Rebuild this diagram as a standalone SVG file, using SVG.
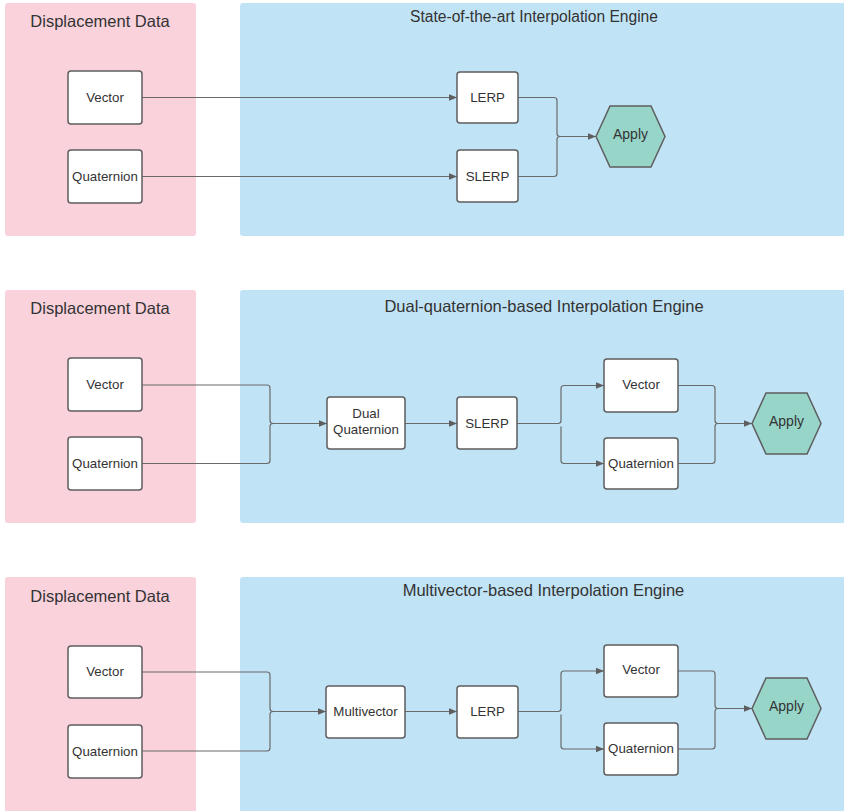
<svg xmlns="http://www.w3.org/2000/svg" width="844" height="811" viewBox="0 0 844 811">
<defs>
<style>
.pink{fill:#f9d2dc;}
.blue{fill:#c1e3f6;}
.box{fill:#ffffff;stroke:#5e5e5e;stroke-width:1.5;}
.hex{fill:#98d5c9;stroke:#5e5e5e;stroke-width:1.5;}
.t{font-family:"Liberation Sans",Arial,sans-serif;fill:#333333;text-anchor:middle;}
.lbl{font-size:13.3px;}
.ap{font-size:14px;}
.ttl{font-size:16.5px;}
.c{fill:none;stroke:#6a6a6a;stroke-width:1.2;}
</style>
<marker id="ah" viewBox="0 0 10 10" refX="10" refY="5" markerWidth="8" markerHeight="8" markerUnits="userSpaceOnUse" orient="auto">
<path d="M0,1 L10,5 L0,9 Z" fill="#5e5e5e"/>
</marker>
</defs>

<g id="panels">
<rect class="pink" x="5" y="3" width="191" height="233" rx="3"/>
<rect class="blue" x="240" y="3" width="610" height="233" rx="3"/>
<rect class="pink" x="5" y="290" width="191" height="233" rx="3"/>
<rect class="blue" x="240" y="290" width="610" height="233" rx="3"/>
<rect class="pink" x="5" y="577" width="191" height="240" rx="3"/>
<rect class="blue" x="240" y="577" width="610" height="240" rx="3"/>
<text class="t ttl" x="100" y="27">Displacement Data</text>
<text class="t" style="font-size:15.6px" x="534" y="22">State-of-the-art Interpolation Engine</text>
<text class="t ttl" x="100" y="314">Displacement Data</text>
<text class="t ttl" x="544" y="312">Dual-quaternion-based Interpolation Engine</text>
<text class="t ttl" x="543.5" y="596">Multivector-based Interpolation Engine</text>
<text class="t ttl" x="100" y="602">Displacement Data</text>
</g>

<g id="connectors">
<!-- panel 1 -->
<path class="c" d="M142,97.5 H457" marker-end="url(#ah)"/>
<path class="c" d="M142,176.5 H457" marker-end="url(#ah)"/>
<path class="c" d="M518,97.5 H554 Q557,97.5 557,100.5 V133.5 Q557,136.5 560,136.5 H596" marker-end="url(#ah)"/>
<path class="c" d="M518,176.5 H554 Q557,176.5 557,173.5 V139.5 Q557,136.5 560,136.5"/>
<!-- panel 2 -->
<path class="c" d="M142,385 H267 Q270,385 270,388 V420.5 Q270,423.5 273,423.5 H327" marker-end="url(#ah)"/>
<path class="c" d="M142,463.5 H267 Q270,463.5 270,460.5 V426.5 Q270,423.5 273,423.5"/>
<path class="c" d="M405,423.5 H457" marker-end="url(#ah)"/>
<path class="c" d="M517,423.5 H558 Q561,423.5 561,420.5 V388.5 Q561,385.5 564,385.5 H604" marker-end="url(#ah)"/>
<path class="c" d="M561,426.5 V460.5 Q561,463.5 564,463.5 H604" marker-end="url(#ah)"/>
<path class="c" d="M678,385.5 H712 Q715,385.5 715,388.5 V420.5 Q715,423.5 718,423.5 H752" marker-end="url(#ah)"/>
<path class="c" d="M678,463.5 H712 Q715,463.5 715,460.5 V426.5 Q715,423.5 718,423.5"/>
<!-- panel 3 -->
<path class="c" d="M142,672 H267 Q270,672 270,675 V708.5 Q270,711.5 273,711.5 H326" marker-end="url(#ah)"/>
<path class="c" d="M142,751 H267 Q270,751 270,748 V714.5 Q270,711.5 273,711.5"/>
<path class="c" d="M405,711.5 H457" marker-end="url(#ah)"/>
<path class="c" d="M518,711.5 H558 Q561,711.5 561,708.5 V674 Q561,671 564,671 H604" marker-end="url(#ah)"/>
<path class="c" d="M561,714.5 V746 Q561,749 564,749 H604" marker-end="url(#ah)"/>
<path class="c" d="M678,671 H712 Q715,671 715,674 V705.5 Q715,708.5 718,708.5 H752" marker-end="url(#ah)"/>
<path class="c" d="M678,749 H712 Q715,749 715,746 V711.5 Q715,708.5 718,708.5"/>
</g>

<g id="p1-vector"><rect class="box" x="68" y="71" width="74" height="53" rx="3"/><text class="t lbl" x="105" y="102">Vector</text></g>
<g id="p1-quaternion"><rect class="box" x="68" y="150" width="74" height="53" rx="3"/><text class="t lbl" x="105" y="181">Quaternion</text></g>
<g id="p1-lerp"><rect class="box" x="457" y="72" width="61" height="51" rx="3"/><text class="t lbl" x="487.5" y="102">LERP</text></g>
<g id="p1-slerp"><rect class="box" x="457" y="150" width="61" height="52" rx="3"/><text class="t lbl" x="487.5" y="181">SLERP</text></g>
<g id="p1-apply"><polygon class="hex" points="596,136.5 610,106 651,106 665,136.5 651,167 610,167"/><text class="t ap" x="630.5" y="139">Apply</text></g>

<g id="p2-vector"><rect class="box" x="68" y="358" width="74" height="53" rx="3"/><text class="t lbl" x="105" y="389">Vector</text></g>
<g id="p2-quaternion"><rect class="box" x="68" y="437" width="74" height="53" rx="3"/><text class="t lbl" x="105" y="468">Quaternion</text></g>
<g id="p2-dualq"><rect class="box" x="327" y="397" width="78" height="52" rx="3"/><text class="t lbl" x="366" y="418">Dual</text><text class="t lbl" x="366" y="434">Quaternion</text></g>
<g id="p2-slerp"><rect class="box" x="457" y="397" width="60" height="52" rx="3"/><text class="t lbl" x="487" y="428">SLERP</text></g>
<g id="p2-vector-out"><rect class="box" x="604" y="359" width="74" height="53" rx="3"/><text class="t lbl" x="641" y="389">Vector</text></g>
<g id="p2-quaternion-out"><rect class="box" x="604" y="438" width="74" height="51" rx="3"/><text class="t lbl" x="641" y="468">Quaternion</text></g>
<g id="p2-apply"><polygon class="hex" points="752,423.5 766,393 807,393 821,423.5 807,454 766,454"/><text class="t ap" x="786.5" y="426">Apply</text></g>

<g id="p3-vector"><rect class="box" x="68" y="646" width="74" height="52" rx="3"/><text class="t lbl" x="105" y="676">Vector</text></g>
<g id="p3-quaternion"><rect class="box" x="68" y="725" width="74" height="53" rx="3"/><text class="t lbl" x="105" y="756">Quaternion</text></g>
<g id="p3-multivector"><rect class="box" x="326" y="686" width="79" height="52" rx="3"/><text class="t lbl" x="365.5" y="716">Multivector</text></g>
<g id="p3-lerp"><rect class="box" x="457" y="686" width="61" height="52" rx="3"/><text class="t lbl" x="487.5" y="716">LERP</text></g>
<g id="p3-vector-out"><rect class="box" x="604" y="645" width="74" height="52" rx="3"/><text class="t lbl" x="641" y="674">Vector</text></g>
<g id="p3-quaternion-out"><rect class="box" x="604" y="723" width="74" height="52" rx="3"/><text class="t lbl" x="641" y="753">Quaternion</text></g>
<g id="p3-apply"><polygon class="hex" points="752,708.5 766,678 807,678 821,708.5 807,739 766,739"/><text class="t ap" x="786.5" y="711">Apply</text></g>
</svg>
